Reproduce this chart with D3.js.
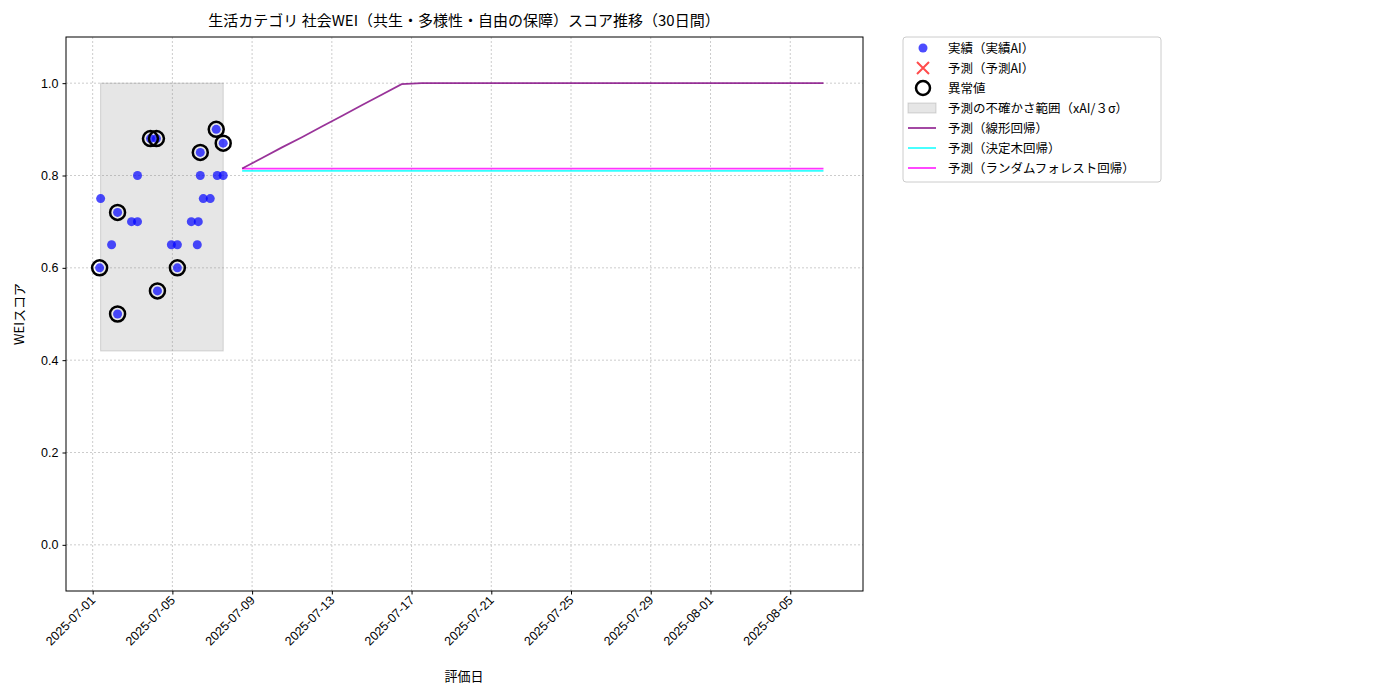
<!DOCTYPE html>
<html><head><meta charset="utf-8">
<script src="https://cdn.jsdelivr.net/npm/d3@7"></script>
<style>body{margin:0;background:#fff;font-family:"Noto Sans CJK JP","DejaVu Sans",sans-serif;}</style>
</head><body><svg id="c" width="1400" height="700"></svg>
<script>
var actualDates = ["2025-07-01T09:36","2025-07-01T08:24","2025-07-01T22:48","2025-07-02T06:00","2025-07-02T06:00",
  "2025-07-02T22:48","2025-07-03T06:00","2025-07-03T06:00","2025-07-03T21:36","2025-07-04T04:48","2025-07-04T06:00",
  "2025-07-04T22:48","2025-07-05T06:00","2025-07-05T06:00","2025-07-05T22:48","2025-07-06T07:12","2025-07-06T06:00",
  "2025-07-06T09:36","2025-07-06T09:36","2025-07-06T13:12","2025-07-06T21:36","2025-07-07T04:48","2025-07-07T06:00",
  "2025-07-07T13:12"];
var actualValues = [0.75,0.60,0.65,0.72,0.50,0.70,0.70,0.80,0.88,0.88,0.55,0.65,0.65,0.60,0.70,0.70,0.65,0.85,0.80,
  0.75,0.75,0.90,0.80,0.80];
var outlierFlags = [0,1,0,1,1,0,0,0,1,1,1,0,0,1,0,0,0,1,0,0,0,1,0,0];
var extraOutlier = {date:"2025-07-07T13:12", value:0.87};
var forecastDates = ["2025-07-08T12:00","2025-07-09T12:00","2025-07-10T12:00","2025-07-11T12:00","2025-07-12T12:00",
  "2025-07-13T12:00","2025-07-14T12:00","2025-07-15T12:00","2025-07-16T12:00","2025-07-17T12:00","2025-07-18T12:00",
  "2025-07-19T12:00","2025-07-20T12:00","2025-07-21T12:00","2025-07-22T12:00","2025-07-23T12:00","2025-07-24T12:00",
  "2025-07-25T12:00","2025-07-26T12:00","2025-07-27T12:00","2025-07-28T12:00","2025-07-29T12:00","2025-07-30T12:00",
  "2025-07-31T12:00","2025-08-01T12:00","2025-08-02T12:00","2025-08-03T12:00","2025-08-04T12:00","2025-08-05T12:00",
  "2025-08-06T16:00"];
var linearValues = [0.815,0.838,0.861,0.883,0.906,0.929,0.952,0.975,0.998,1.0,1.0,1.0,1.0,1.0,1.0,1.0,1.0,1.0,1.0,1.0,
  1.0,1.0,1.0,1.0,1.0,1.0,1.0,1.0,1.0,1.0];
var treeValue = 0.81, forestValue = 0.815;
var bandStart = "2025-07-01T09:36", bandEnd = "2025-07-07T13:12", bandLow = 0.42, bandHigh = 1.0;
var xTicks = ["2025-07-01","2025-07-05","2025-07-09","2025-07-13","2025-07-17","2025-07-21","2025-07-25","2025-07-29",
  "2025-08-01","2025-08-05"];
var yTicks = [0.0,0.2,0.4,0.6,0.8,1.0];

var parse = d3.isoParse;
var svg = d3.select("#c");
var L = 66, R = 863, T = 37, B = 591;
var x = d3.scaleTime().domain([parse("2025-06-29T15:54"), parse("2025-08-08T15:36")]).range([L, R]);
var y = d3.scaleLinear().domain([-0.1, 1.1]).range([B, T]);

// grid
svg.append("g").selectAll("line").data(xTicks).enter().append("line")
  .attr("x1", d => x(parse(d))).attr("x2", d => x(parse(d))).attr("y1", T).attr("y2", B)
  .attr("stroke", "#ccc").attr("stroke-dasharray", "2,2");
svg.append("g").selectAll("line").data(yTicks).enter().append("line")
  .attr("y1", d => y(d)).attr("y2", d => y(d)).attr("x1", L).attr("x2", R)
  .attr("stroke", "#ccc").attr("stroke-dasharray", "2,2");

// band
svg.append("rect").attr("x", x(parse(bandStart))).attr("width", x(parse(bandEnd)) - x(parse(bandStart)))
  .attr("y", y(bandHigh)).attr("height", y(bandLow) - y(bandHigh))
  .attr("fill", "#808080").attr("fill-opacity", 0.2).attr("stroke", "#808080").attr("stroke-opacity", 0.3);

// lines
var fd = forecastDates.map(parse);
var line = d3.line().x(d => x(d[0])).y(d => y(d[1]));
svg.append("path").attr("d", line(fd.map(d => [d, treeValue]))).attr("fill", "none").attr("stroke", "cyan").attr("stroke-opacity", 0.8).attr("stroke-width", 1.8);
svg.append("path").attr("d", line(fd.map(d => [d, forestValue]))).attr("fill", "none").attr("stroke", "magenta").attr("stroke-opacity", 0.8).attr("stroke-width", 1.8);
svg.append("path").attr("d", line(fd.map((d, i) => [d, linearValues[i]]))).attr("fill", "none").attr("stroke", "purple").attr("stroke-opacity", 0.8).attr("stroke-width", 1.8);

// points
var pts = actualDates.map((d, i) => ({d: parse(d), v: actualValues[i], o: outlierFlags[i]}));
pts.push({d: parse(extraOutlier.date), v: extraOutlier.value, o: 1});
svg.append("g").selectAll("circle").data(pts).enter().append("circle")
  .attr("cx", d => x(d.d)).attr("cy", d => y(d.v)).attr("r", 4.5).attr("fill", "blue").attr("fill-opacity", 0.7);
svg.append("g").selectAll("circle").data(pts.filter(d => d.o)).enter().append("circle")
  .attr("cx", d => x(d.d)).attr("cy", d => y(d.v)).attr("r", 7.5).attr("fill", "none").attr("stroke", "black").attr("stroke-width", 2.5);

// frame & axes
svg.append("rect").attr("x", L).attr("y", T).attr("width", R - L).attr("height", B - T).attr("fill", "none").attr("stroke", "black");
var yAx = svg.append("g").attr("transform", `translate(${L},0)`).call(d3.axisLeft(y).tickValues(yTicks).tickFormat(d3.format(".1f")).tickSize(3.5).tickPadding(4));
var xAx = svg.append("g").attr("transform", `translate(0,${B})`).call(d3.axisBottom(x).tickValues(xTicks.map(parse)).tickFormat(d3.timeFormat("%Y-%m-%d")).tickSize(3.5));
[yAx, xAx].forEach(a => { a.select(".domain").remove(); a.selectAll("text").attr("font-size", 12.5).attr("fill", "#000"); });
xAx.selectAll("text").attr("text-anchor", "end").attr("dy", 0).attr("y", 0).attr("transform", "translate(3,10) rotate(-45)");

svg.append("text").attr("x", 464).attr("y", 26).attr("text-anchor", "middle").attr("font-size", 15).text("生活カテゴリ 社会WEI（共生・多様性・自由の保障）スコア推移（30日間）");
svg.append("text").attr("x", 464).attr("y", 681).attr("text-anchor", "middle").attr("font-size", 13).text("評価日");
svg.append("text").attr("transform", "translate(24,314) rotate(-90)").attr("text-anchor", "middle").attr("font-size", 13).text("WEIスコア");

// legend
var lg = svg.append("g").attr("transform", "translate(903,37)");
lg.append("rect").attr("width", 258).attr("height", 145).attr("rx", 3).attr("fill", "#fff").attr("stroke", "#ccc");
var items = ["実績（実績AI）","予測（予測AI）","異常値","予測の不確かさ範囲（xAI/３σ）","予測（線形回帰）","予測（決定木回帰）","予測（ランダムフォレスト回帰）"];
items.forEach((t, i) => {
  var cy = 11 + i * 20, g = lg.append("g");
  if (i == 0) g.append("circle").attr("cx", 20).attr("cy", cy).attr("r", 4.5).attr("fill", "blue").attr("fill-opacity", 0.7);
  if (i == 1) g.append("path").attr("d", `M14,${cy - 6}L26,${cy + 6}M14,${cy + 6}L26,${cy - 6}`).attr("stroke", "red").attr("stroke-opacity", 0.7).attr("stroke-width", 2);
  if (i == 2) g.append("circle").attr("cx", 20).attr("cy", cy).attr("r", 7).attr("fill", "none").attr("stroke", "black").attr("stroke-width", 2.5);
  if (i == 3) g.append("rect").attr("x", 5).attr("y", cy - 5).attr("width", 28).attr("height", 10).attr("fill", "#808080").attr("fill-opacity", 0.2).attr("stroke", "#808080").attr("stroke-opacity", 0.3);
  if (i >= 4) g.append("line").attr("x1", 5).attr("x2", 33).attr("y1", cy).attr("y2", cy).attr("stroke", ["purple","cyan","magenta"][i - 4]).attr("stroke-opacity", 0.8).attr("stroke-width", 1.8);
  g.append("text").attr("x", 45).attr("y", cy + 4.5).attr("font-size", 12.5).text(t);
});
</script></body></html>
